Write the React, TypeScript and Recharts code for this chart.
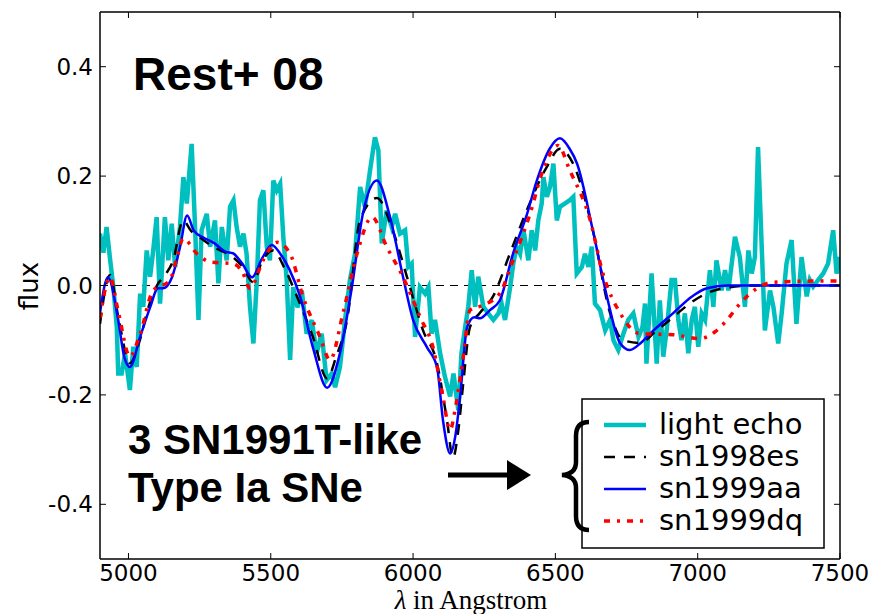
import React from "react"
import { LineChart, Line, XAxis, YAxis, ReferenceLine, Legend } from "recharts"

// wavelength (Angstrom) / flux pairs
const echoX = [4900, 4912, 4923, 4935, 4947, 4959, 4964, 4976, 4988, 5005, 5017, 5029, 5041, 5052, 5064, 5076, 5087, 5099, 5111, 5128, 5140, 5152, 5164, 5181, 5193, 5205, 5222, 5234, 5246, 5257, 5275, 5287, 5304, 5316, 5328, 5345, 5357, 5369, 5380, 5392, 5404, 5415, 5427, 5439, 5451, 5462, 5474, 5486, 5497, 5509, 5521, 5533, 5544, 5556, 5568, 5579, 5594, 5609, 5626, 5644, 5661, 5679, 5696, 5714, 5726, 5743, 5761, 5778, 5796, 5814, 5831, 5849, 5866, 5878, 5890, 5907, 5925, 5937, 5954, 5972, 5983, 5995, 6007, 6024, 6042, 6054, 6065, 6077, 6095, 6112, 6130, 6142, 6159, 6170, 6183, 6194, 6206, 6218, 6229, 6247, 6264, 6282, 6300, 6311, 6323, 6341, 6352, 6364, 6376, 6388, 6405, 6417, 6429, 6440, 6452, 6458, 6470, 6481, 6493, 6505, 6516, 6534, 6551, 6563, 6575, 6593, 6604, 6616, 6628, 6639, 6657, 6675, 6692, 6704, 6721, 6739, 6756, 6774, 6792, 6806, 6815, 6820, 6838, 6856, 6867, 6879, 6891, 6908, 6920, 6932, 6943, 6955, 6967, 6979, 6990, 7002, 7014, 7026, 7043, 7055, 7066, 7084, 7096, 7108, 7131, 7148, 7166, 7178, 7190, 7201, 7212, 7225, 7236, 7254, 7266, 7283, 7295, 7312, 7330, 7347, 7365, 7383, 7394, 7406, 7423, 7441, 7458, 7476, 7488, 7500]
const echoY = [0.095, 0.06, 0.107, 0.05, -0.003, -0.076, -0.161, -0.161, -0.124, -0.191, -0.112, -0.149, -0.015, -0.039, 0.064, 0.016, 0.064, 0.125, -0.033, 0.125, 0.046, 0.113, 0.034, 0.107, 0.198, 0.15, 0.259, 0.107, -0.063, 0.101, 0.131, 0.071, 0.119, 0.004, 0.107, 0.046, 0.144, 0.156, 0.107, 0.071, 0.095, 0.058, -0.039, -0.106, 0.01, 0.156, 0.174, 0.071, 0.046, 0.192, 0.174, 0.186, 0.089, 0.01, -0.136, -0.003, -0.04, -0.009, -0.088, -0.063, -0.124, -0.088, -0.173, -0.161, -0.186, -0.149, -0.063, 0.01, 0.058, 0.18, 0.144, 0.211, 0.271, 0.247, 0.077, 0.137, 0.107, 0.131, 0.095, 0.101, 0.034, 0.04, -0.094, -0.003, -0.015, -0.003, -0.088, -0.063, -0.124, -0.167, -0.203, -0.161, -0.228, -0.124, -0.076, -0.039, 0.028, -0.039, 0.016, -0.039, -0.051, -0.063, -0.051, -0.033, -0.063, -0.003, 0.04, 0.071, 0.058, 0.101, 0.046, 0.101, 0.064, 0.119, 0.15, 0.198, 0.162, 0.18, 0.223, 0.119, 0.144, 0.15, 0.156, 0.162, 0.022, 0.034, 0.058, 0.034, 0.071, -0.033, -0.045, -0.082, -0.063, -0.1, -0.118, -0.088, -0.063, -0.051, -0.094, -0.076, -0.033, -0.143, 0.022, -0.143, -0.027, -0.13, -0.082, 0.01, 0.01, -0.063, -0.1, -0.051, -0.124, -0.063, -0.039, -0.112, -0.051, -0.063, 0.028, -0.039, 0.046, -0.009, 0.028, -0.009, 0.089, 0.052, -0.039, 0.064, 0.022, 0.052, 0.253, 0.07, -0.082, -0.009, -0.039, -0.106, -0.051, 0.04, 0.083, -0.07, 0.052, -0.02, 0.01, -0.002, 0.01, 0.022, 0.04, 0.101, 0.022, 0.052]

const es98X = [4900, 4935, 4965, 5005, 5040, 5070, 5100, 5130, 5157, 5192, 5220, 5251, 5300, 5367, 5400, 5438, 5470, 5508, 5550, 5592, 5648, 5698, 5730, 5768, 5814, 5873, 5929, 5979, 6035, 6084, 6119, 6140, 6160, 6175, 6200, 6235, 6281, 6340, 6400, 6470, 6516, 6562, 6632, 6692, 6738, 6797, 6850, 6913, 6980, 7033, 7114, 7200, 7500]
const es98Y = [-0.07, 0.019, -0.06, -0.142, -0.1, -0.04, 0, 0.02, 0.046, 0.119, 0.1, 0.088, 0.07, 0.052, 0.035, 0.006, 0.045, 0.064, 0.03, -0.02, -0.094, -0.17, -0.13, -0.063, 0.12, 0.16, 0.1, 0.015, -0.082, -0.142, -0.246, -0.315, -0.26, -0.185, -0.076, -0.05, -0.02, 0.058, 0.138, 0.217, 0.25, 0.223, 0.1, -0.05, -0.1, -0.105, -0.085, -0.058, -0.03, -0.014, -0.003, 0, 0]

const aa99X = [4900, 4928, 4964, 4985, 5005, 5041, 5076, 5104, 5122, 5153, 5181, 5206, 5230, 5262, 5300, 5340, 5367, 5400, 5434, 5470, 5504, 5532, 5565, 5603, 5648, 5698, 5743, 5785, 5824, 5873, 5919, 5965, 6000, 6049, 6084, 6105, 6130, 6150, 6165, 6190, 6215, 6235, 6270, 6305, 6351, 6400, 6435, 6480, 6516, 6550, 6576, 6632, 6681, 6727, 6762, 6800, 6833, 6913, 6980, 7033, 7103, 7300, 7500]
const aa99Y = [-0.05, 0.015, -0.063, -0.13, -0.149, -0.094, -0.04, -0.005, -0.005, 0.015, 0.07, 0.128, 0.1, 0.088, 0.078, 0.062, 0.059, 0.04, 0.015, 0.05, 0.074, 0.059, 0.03, -0.02, -0.113, -0.187, -0.124, -0.003, 0.132, 0.192, 0.125, 0.015, -0.063, -0.113, -0.149, -0.246, -0.307, -0.27, -0.204, -0.076, -0.058, -0.06, -0.045, -0.027, 0.058, 0.13, 0.192, 0.25, 0.269, 0.25, 0.223, 0.1, -0.02, -0.105, -0.118, -0.105, -0.088, -0.051, -0.02, -0.005, 0, 0, 0]

const dq99X = [4900, 4935, 4965, 5005, 5040, 5086, 5146, 5170, 5192, 5241, 5287, 5367, 5400, 5427, 5473, 5522, 5568, 5613, 5673, 5708, 5754, 5803, 5856, 5908, 5965, 6025, 6070, 6105, 6130, 6150, 6175, 6200, 6246, 6305, 6351, 6411, 6456, 6509, 6551, 6622, 6667, 6727, 6797, 6913, 7008, 7060, 7103, 7149, 7209, 7265, 7400, 7500]
const dq99Y = [-0.06, 0.015, -0.05, -0.13, -0.09, -0.01, 0.01, 0.05, 0.086, 0.058, 0.043, 0.04, 0.025, -0.005, 0.046, 0.079, 0.058, -0.02, -0.094, -0.136, -0.05, 0.058, 0.125, 0.07, 0.015, -0.058, -0.113, -0.204, -0.264, -0.22, -0.136, -0.045, -0.036, -0.014, 0.046, 0.131, 0.21, 0.256, 0.21, 0.12, 0.022, -0.05, -0.088, -0.09, -0.097, -0.085, -0.063, -0.033, -0.005, 0.006, 0.008, 0.008]

const xTicks = [5000, 5500, 6000, 6500, 7000, 7500]
const yTicks = [-0.4, -0.2, 0.0, 0.2, 0.4]

const toRows = (xs: number[], ys: number[]) => xs.map((x, i) => ({ x, y: ys[i] }))

const echoData = toRows(echoX, echoY)
const es98Data = toRows(es98X, es98Y)
const aa99Data = toRows(aa99X, aa99Y)
const dq99Data = toRows(dq99X, dq99Y)

const legendItems = [
    { name: "light echo", color: "#00BFBF", width: 4.5, dash: undefined },
    { name: "sn1998es", color: "#000000", width: 2.5, dash: "11 9" },
    { name: "sn1999aa", color: "#0000FF", width: 2.5, dash: undefined },
    { name: "sn1999dq", color: "#FF0000", width: 3.5, dash: "6 7 3 7" },
]

const TICK_LEN = 6

// matplotlib-style ticks: short marks pointing into the plot
const BottomTick = (p: any) => (
    <g>
        <line x1={p.x} x2={p.x} y1={p.y} y2={p.y - TICK_LEN} stroke="#000" strokeWidth={1} />
        <text x={p.x} y={p.y + 22} textAnchor="middle" fontFamily="DejaVu Sans" fontSize={23} fill="#000">{p.payload.value}</text>
    </g>
)
const TopTick = (p: any) => <line x1={p.x} x2={p.x} y1={p.y} y2={p.y + TICK_LEN} stroke="#000" strokeWidth={1} />
const LeftTick = (p: any) => (
    <g>
        <line x1={p.x} x2={p.x + TICK_LEN} y1={p.y} y2={p.y} stroke="#000" strokeWidth={1} />
        <text x={p.x - 7} y={p.y + 8} textAnchor="end" fontFamily="DejaVu Sans" fontSize={23} fill="#000">{Number(p.payload.value).toFixed(1)}</text>
    </g>
)
const RightTick = (p: any) => <line x1={p.x} x2={p.x - TICK_LEN} y1={p.y} y2={p.y} stroke="#000" strokeWidth={1} />

function LegendBox() {
    return (
        <svg width={244} height={151} style={{ display: "block" }}>
            <rect x={1} y={1} width={242} height={149} fill="#fff" stroke="#000" strokeWidth={1.5} />
            {legendItems.map((it, i) => {
                const cy = 27 + i * 32
                return (
                    <g key={it.name}>
                        <line x1={23} x2={65} y1={cy} y2={cy} stroke={it.color} strokeWidth={it.width} strokeDasharray={it.dash} />
                        <text x={78} y={cy + 9} fontFamily="DejaVu Sans" fontSize={29} fill="#000">{it.name}</text>
                    </g>
                )
            })}
        </svg>
    )
}

export default function App() {
    return (
        <div style={{ position: "absolute", left: 0, top: 0, width: 874, height: 614, background: "#fff" }}>
            <LineChart width={874} height={614} margin={{ top: 8, right: 30, bottom: 25, left: 30 }}>
                <XAxis xAxisId="b" type="number" dataKey="x" domain={[4900, 7500]} ticks={xTicks} allowDataOverflow height={30}
                    axisLine={{ stroke: "#000", strokeWidth: 1.5 }} tickLine={false} tickSize={0} tickMargin={0} tick={BottomTick} />
                <XAxis xAxisId="t" orientation="top" type="number" dataKey="x" domain={[4900, 7500]} ticks={xTicks} allowDataOverflow height={4}
                    axisLine={{ stroke: "#000", strokeWidth: 1.5 }} tickLine={false} tickSize={0} tickMargin={0} tick={TopTick} />
                <YAxis yAxisId="l" type="number" domain={[-0.5, 0.5]} ticks={yTicks} allowDataOverflow width={70}
                    axisLine={{ stroke: "#000", strokeWidth: 1.5 }} tickLine={false} tickSize={0} tickMargin={0} tick={LeftTick} />
                <YAxis yAxisId="r" orientation="right" type="number" domain={[-0.5, 0.5]} ticks={yTicks} allowDataOverflow width={4}
                    axisLine={{ stroke: "#000", strokeWidth: 1.5 }} tickLine={false} tickSize={0} tickMargin={0} tick={RightTick} />
                <ReferenceLine xAxisId="b" yAxisId="l" y={0} stroke="#000" strokeWidth={1} strokeDasharray="8 6" />
                <Line xAxisId="b" yAxisId="l" data={echoData} dataKey="y" name="light echo" type="linear" stroke="#00BFBF" strokeWidth={4.5} dot={false} isAnimationActive={false} />
                <Line xAxisId="b" yAxisId="l" data={es98Data} dataKey="y" name="sn1998es" type="monotone" stroke="#000" strokeWidth={2.5} strokeDasharray="11 9" dot={false} isAnimationActive={false} />
                <Line xAxisId="b" yAxisId="l" data={aa99Data} dataKey="y" name="sn1999aa" type="monotone" stroke="#0000FF" strokeWidth={2.5} dot={false} isAnimationActive={false} />
                <Line xAxisId="b" yAxisId="l" data={dq99Data} dataKey="y" name="sn1999dq" type="monotone" stroke="#FF0000" strokeWidth={3.5} strokeDasharray="6 7 3 7" dot={false} isAnimationActive={false} />
                <Legend layout="vertical" align="center" verticalAlign="middle" content={() => <LegendBox />}
                    wrapperStyle={{ left: 581, top: 398, width: 244, height: 151 }} />
            </LineChart>
            <svg width={874} height={614} style={{ position: "absolute", left: 0, top: 0, pointerEvents: "none" }}>
                <text x={133} y={90} fontFamily="Liberation Sans" fontWeight="bold" fontSize={46} fill="#000">Rest+ 08</text>
                <text x={128} y={454} fontFamily="Liberation Sans" fontWeight="bold" fontSize={42} fill="#000">3 SN1991T-like</text>
                <text x={128} y={502} fontFamily="Liberation Sans" fontWeight="bold" fontSize={42} fill="#000">Type Ia SNe</text>
                <line x1={448} x2={510} y1={475} y2={475} stroke="#000" strokeWidth={5} />
                <polygon points="507,460 531,475 507,490" fill="#000" />
                <path d="M 589 422 Q 576 422 576 436 L 576 462 Q 576 474 562 475 Q 576 476 576 488 L 576 516 Q 576 530 589 530" fill="none" stroke="#000" strokeWidth={4.5} />
                <text x={29} y={286} transform="rotate(-90 29 286)" textAnchor="middle" dominantBaseline="central" fontFamily="DejaVu Sans" fontSize={26} fill="#000">flux</text>
                <text x={471} y={609} textAnchor="middle" fontFamily="Liberation Serif" fontSize={27} fill="#000">
                    <tspan fontStyle="italic">λ</tspan> in Angstrom
                </text>
            </svg>
        </div>
    )
}
